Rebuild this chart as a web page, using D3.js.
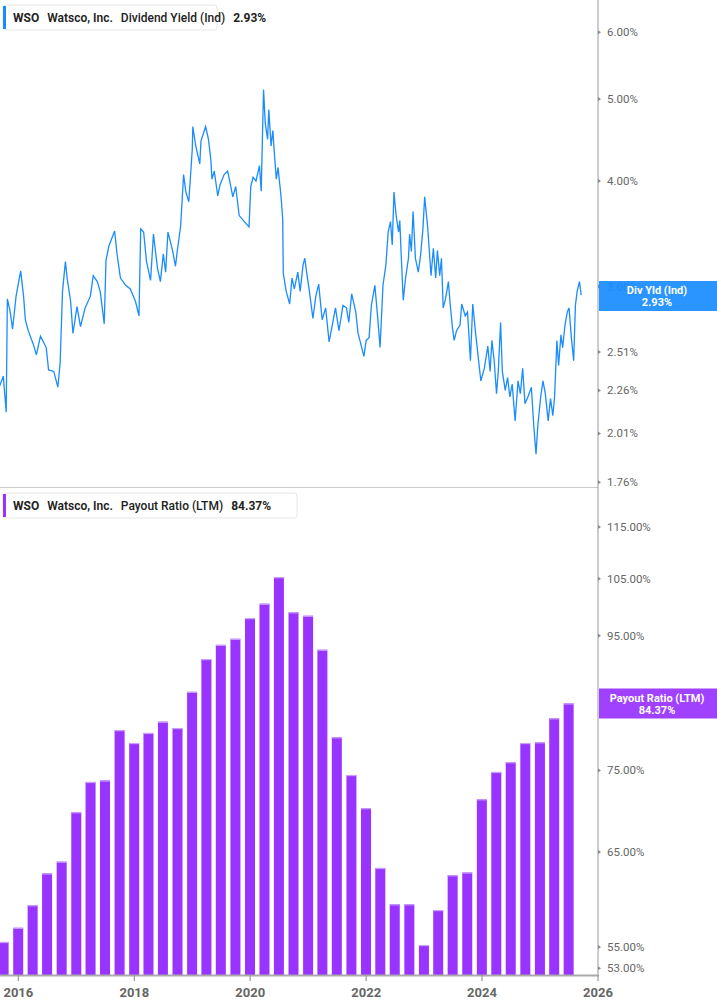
<!DOCTYPE html>
<html><head><meta charset="utf-8">
<script src="https://cdn.jsdelivr.net/npm/d3@7/dist/d3.min.js"></script>
<style>body{margin:0;background:#fff;font-family:Roboto,"Liberation Sans",Arial,sans-serif}</style>
</head><body><svg id="c" width="717" height="1005"></svg>
<script>
// Dividend yield (decimal year, %)
const yieldDates = [2015.68,2015.74,2015.79,2015.81,2015.86,2015.90,2015.96,2016.04,2016.09,2016.12,2016.17,2016.26,2016.31,2016.38,2016.48,2016.52,2016.61,2016.68,2016.72,2016.76,2016.81,2016.84,2016.90,2016.94,2017.01,2017.07,2017.15,2017.24,2017.29,2017.36,2017.41,2017.48,2017.51,2017.56,2017.66,2017.70,2017.76,2017.85,2017.93,2018.02,2018.08,2018.11,2018.16,2018.21,2018.28,2018.33,2018.40,2018.45,2018.50,2018.54,2018.58,2018.66,2018.71,2018.74,2018.80,2018.85,2018.89,2018.94,2019.00,2019.01,2019.06,2019.13,2019.15,2019.20,2019.23,2019.28,2019.32,2019.34,2019.38,2019.44,2019.48,2019.55,2019.61,2019.64,2019.70,2019.75,2019.81,2019.90,2019.98,2020.01,2020.05,2020.10,2020.16,2020.19,2020.21,2020.23,2020.26,2020.30,2020.32,2020.36,2020.39,2020.42,2020.45,2020.48,2020.53,2020.56,2020.57,2020.62,2020.68,2020.72,2020.76,2020.82,2020.86,2020.91,2020.94,2020.98,2021.02,2021.08,2021.13,2021.18,2021.24,2021.30,2021.36,2021.41,2021.47,2021.53,2021.60,2021.66,2021.70,2021.75,2021.82,2021.86,2021.91,2021.96,2022.00,2022.05,2022.09,2022.15,2022.20,2022.24,2022.29,2022.34,2022.38,2022.42,2022.45,2022.48,2022.51,2022.52,2022.56,2022.58,2022.61,2022.64,2022.68,2022.73,2022.75,2022.78,2022.81,2022.85,2022.90,2022.94,2022.98,2023.01,2023.06,2023.12,2023.16,2023.20,2023.23,2023.27,2023.30,2023.33,2023.37,2023.42,2023.45,2023.49,2023.52,2023.56,2023.62,2023.65,2023.71,2023.75,2023.80,2023.84,2023.88,2023.93,2023.98,2024.04,2024.10,2024.14,2024.17,2024.21,2024.25,2024.28,2024.32,2024.35,2024.40,2024.44,2024.48,2024.52,2024.57,2024.62,2024.66,2024.70,2024.74,2024.79,2024.85,2024.89,2024.93,2024.96,2025.01,2025.05,2025.09,2025.14,2025.18,2025.22,2025.25,2025.29,2025.32,2025.36,2025.39,2025.43,2025.47,2025.50,2025.54,2025.58,2025.61,2025.64,2025.68,2025.71];
const yieldValues = [2.29,2.35,2.13,2.90,2.80,2.67,2.92,3.13,2.92,2.74,2.66,2.56,2.49,2.62,2.54,2.39,2.38,2.28,2.44,2.96,3.21,3.07,2.88,2.64,2.84,2.69,2.83,2.92,3.09,3.04,2.96,2.71,3.22,3.35,3.49,3.28,3.07,3.01,2.98,2.88,2.77,3.51,3.48,3.21,3.05,3.46,3.15,3.04,3.28,3.12,3.48,3.31,3.17,3.30,3.54,4.07,3.88,3.78,4.36,4.64,4.40,4.19,4.46,4.57,4.64,4.48,4.24,4.02,4.11,3.84,3.96,4.07,4.11,4.02,3.83,3.94,3.64,3.58,3.53,3.94,4.04,4.00,4.17,3.89,4.48,5.13,4.68,4.48,4.86,4.40,4.59,4.28,4.02,4.15,3.84,3.61,3.11,2.96,2.86,3.07,2.98,3.12,2.96,3.18,3.24,3.09,2.96,2.75,2.92,3.02,2.74,2.83,2.58,2.69,2.83,2.66,2.85,2.83,2.72,2.94,2.80,2.64,2.56,2.48,2.59,2.61,2.85,3.01,2.75,2.54,3.01,3.18,3.48,3.58,3.36,3.88,3.68,3.63,3.48,3.59,3.21,2.89,3.07,3.24,3.46,3.30,3.68,3.24,3.12,3.27,3.51,3.83,3.54,3.09,3.33,3.07,3.31,3.09,3.24,2.83,2.90,3.04,2.86,2.68,2.59,2.66,2.70,2.86,2.77,2.80,2.45,2.86,2.68,2.49,2.32,2.40,2.55,2.38,2.59,2.45,2.24,2.38,2.72,2.38,2.26,2.34,2.22,2.30,2.08,2.32,2.24,2.40,2.18,2.22,2.28,2.06,1.90,2.05,2.22,2.32,2.24,2.08,2.21,2.11,2.22,2.59,2.42,2.63,2.54,2.70,2.80,2.83,2.61,2.45,2.85,2.96,3.04,2.93];
// Payout ratio (LTM), quarterly from Q3 2015
const payoutValues = [55.5,56.9,59.2,62.6,63.9,69.7,73.5,73.7,80.5,78.7,80.1,81.7,80.8,86.1,91.2,93.5,94.5,98.0,100.5,105.3,99.0,98.4,92.7,79.5,74.4,70.2,63.2,59.3,59.3,55.2,58.7,62.4,62.7,71.3,74.8,76.1,78.7,78.8,82.2,84.37];
const yieldTicks = [6.00,5.00,4.00,3.00,2.51,2.26,2.01,1.76];
const payoutTicks = [115,105,95,75,65,55,53];
const yearTicks = [2016,2018,2020,2022,2024,2026];

const svg = d3.select("#c");
const W = 717, axisX = 598;
const decToDate = d => { const y = Math.floor(d); const s = new Date(y,0,1), e = new Date(y+1,0,1); return new Date(+s + (d-y)*(e-s)); };
const x = d3.scaleTime().domain([decToDate(2015.683), decToDate(2026.0)]).range([0, axisX]);

const y1 = d3.scaleLog().domain([1.737, 6.55]).range([487, 0]);
const y2 = d3.scaleLog().domain([52.37, 122.7]).range([975, 490]);

const lineData = yieldDates.map((d,i)=>({d:decToDate(d), v:yieldValues[i]}));
svg.append("path").datum(lineData)
  .attr("d", d3.line().x(p=>x(p.d)).y(p=>y1(p.v)))
  .attr("fill","none").attr("stroke","#1a8cff").attr("stroke-width",1.3);

const barData = payoutValues.map((v,i)=>({d: d3.timeDay.offset(d3.timeMonth.offset(new Date(2015,9,1), 3*i), -1), v}));
svg.append("g").selectAll("rect").data(barData).join("rect")
  .attr("x", b=>x(b.d)-5).attr("width",10)
  .attr("y", b=>y2(b.v)).attr("height", b=>975-y2(b.v))
  .attr("fill","#9933ff");
svg.append("g").selectAll("rect").data(barData).join("rect")
  .attr("x", b=>x(b.d)-5).attr("width",10)
  .attr("y", b=>y2(b.v)).attr("height",1.2).attr("fill","#c9a0ff");

svg.append("line").attr("x1",0).attr("x2",axisX).attr("y1",487.5).attr("y2",487.5).attr("stroke","#ccc");
svg.append("line").attr("x1",axisX).attr("x2",axisX).attr("y1",0).attr("y2",975).attr("stroke","#999").attr("stroke-width",1);
svg.append("line").attr("x1",0).attr("x2",axisX+1).attr("y1",975.5).attr("y2",975.5).attr("stroke","#aaa").attr("stroke-width",2);

function rightTicks(scale, ticks, fmt){
  const g = svg.append("g");
  ticks.forEach(t=>{
    const yy = scale(t);
    g.append("path").attr("d",`M${axisX},${yy-2}L${axisX+3},${yy}L${axisX},${yy+2}Z`).attr("fill","#888");
    g.append("text").attr("x",axisX+9).attr("y",yy+4).attr("font-size",11.5).attr("fill","#666").text(fmt(t));
  });
}
rightTicks(y1, yieldTicks, t=>t.toFixed(2)+"%");
rightTicks(y2, payoutTicks, t=>t.toFixed(2)+"%");

yearTicks.forEach(yr=>{
  const xx = x(new Date(yr,0,1));
  svg.append("line").attr("x1",xx).attr("x2",xx).attr("y1",975).attr("y2",981).attr("stroke","#999").attr("stroke-width",1.2);
  svg.append("text").attr("x",xx).attr("y",997).attr("text-anchor","middle").attr("font-size",13).attr("font-weight","bold").attr("fill","#666").text(yr);
});

function valueBox(yCenter, color, l1, l2){
  svg.append("rect").attr("x",axisX+1).attr("y",yCenter-15).attr("width",W-axisX).attr("height",30).attr("fill",color).attr("opacity",0.93);
  svg.append("text").attr("x",657).attr("y",yCenter-2).attr("text-anchor","middle").attr("font-size",11).attr("font-weight","bold").attr("fill","#fff").text(l1);
  svg.append("text").attr("x",657).attr("y",yCenter+10).attr("text-anchor","middle").attr("font-size",11).attr("font-weight","bold").attr("fill","#fff").text(l2);
}
valueBox(296, "#1a8cff", "Div Yld (Ind)", yieldValues[yieldValues.length-1].toFixed(2)+"%");
valueBox(703.5, "#9933ff", "Payout Ratio (LTM)", payoutValues[payoutValues.length-1].toFixed(2)+"%");

function legend(y0, color, parts, w){
  svg.append("rect").attr("x",3).attr("y",y0).attr("width",w).attr("height",25).attr("rx",3).attr("fill","#fff").attr("stroke","#e6e6e6");
  svg.append("rect").attr("x",3).attr("y",y0+1).attr("width",3).attr("height",23).attr("fill",color);
  const t = svg.append("text").attr("x",13).attr("y",y0+17).attr("font-size",12).attr("fill","#222");
  parts.forEach((p,i)=>t.append("tspan").attr("dx", i?8:0).attr("font-weight",p[1]).text(p[0]));
}
legend(5, "#1a8cff", [["WSO","bold"],["Watsco, Inc.","600"],["Dividend Yield (Ind)","500"],[yieldValues[yieldValues.length-1].toFixed(2)+"%","bold"]], 214);
legend(493, "#9933ff", [["WSO","bold"],["Watsco, Inc.","600"],["Payout Ratio (LTM)","500"],[payoutValues[payoutValues.length-1].toFixed(2)+"%","bold"]], 294);
</script></body></html>
